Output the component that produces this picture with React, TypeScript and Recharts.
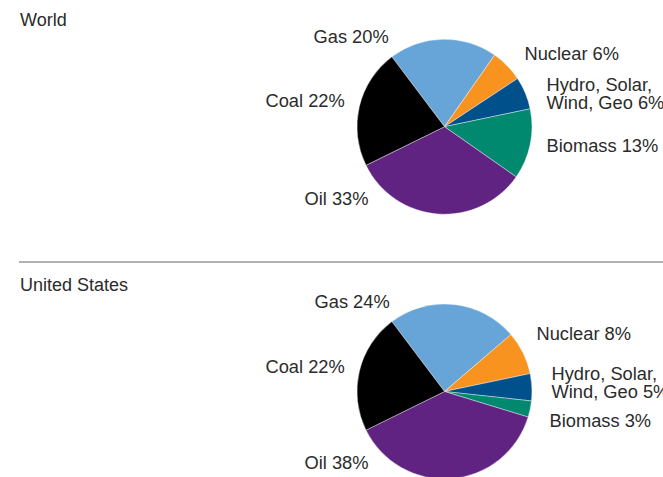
import React from "react";
import { PieChart, Pie, Cell } from "recharts";

// Primary energy supply by source, share of total (%)
const sources = ["Gas", "Nuclear", "Hydro, Solar, Wind, Geo", "Biomass", "Oil", "Coal"];
const worldShares = [20, 6, 6, 13, 33, 22];
const usShares = [24, 8, 5, 3, 38, 22];

const sliceColors = ["#67a5d8", "#f7931e", "#00508c", "#00896f", "#612382", "#000000"];

// label text lines for each source; the share is appended to the last line
const labelLines = [["Gas"], ["Nuclear"], ["Hydro, Solar,", "Wind, Geo"], ["Biomass"], ["Oil"], ["Coal"]];

// label anchor (left x, middle y) relative to the pie centre
const worldLabelPos = [
  [-131, -90.5],
  [80, -74],
  [102, -43],
  [102, 18],
  [-140, 71],
  [-179, -26.5],
];
const usLabelPos = [
  [-130, -90.5],
  [92, -59],
  [107, -19],
  [105, 28.5],
  [-140, 70.5],
  [-179, -25.5],
];

const W = 663;
const H = 477;
const R = 87.5;
const FONT = "'Liberation Sans', Arial, sans-serif";

const toRows = (shares: number[]) => sources.map((name, i) => ({ name, value: shares[i] }));

const makeLabel = (pos: number[][]) => (props: any) => {
  const { cx, cy, index, value } = props;
  const lines = labelLines[index];
  const [dx, dy] = pos[index];
  const lh = 18;
  return (
    <text
      x={cx + dx}
      y={cy + dy}
      fill="#2b2b2b"
      fontSize={18.3}
      fontFamily={FONT}
      textAnchor="start"
      dominantBaseline="central"
    >
      {lines.map((l, i) => (
        <tspan key={i} x={cx + dx} dy={i === 0 ? 0 : lh}>
          {i === lines.length - 1 ? `${l} ${value}%` : l}
        </tspan>
      ))}
    </text>
  );
};

const titleStyle: React.CSSProperties = {
  position: "absolute",
  left: 20,
  fontFamily: FONT,
  fontSize: 18,
  color: "#2b2b2b",
  lineHeight: "20px",
};

export default function App() {
  return (
    <div style={{ position: "absolute", left: 0, top: 0, width: W, height: H, overflow: "hidden", background: "#fff" }}>
      <div style={{ ...titleStyle, top: 10 }}>World</div>
      <div style={{ position: "absolute", left: 19, top: 261, width: W - 19, height: 2, background: "#b3b3b3" }} />
      <div style={{ ...titleStyle, top: 275 }}>United States</div>
      <div style={{ position: "absolute", left: 0, top: 0 }}>
        <PieChart width={W} height={H} margin={{ top: 0, right: 0, bottom: 0, left: 0 }}>
          <Pie
            data={toRows(worldShares)}
            dataKey="value"
            cx={444.5}
            cy={126.7}
            outerRadius={R}
            startAngle={127}
            endAngle={-233}
            stroke="#ffffff"
            strokeWidth={0.4}
            labelLine={false}
            label={makeLabel(worldLabelPos)}
            isAnimationActive={false}
          >
            {worldShares.map((_, i) => (
              <Cell key={`w-${i}`} fill={sliceColors[i]} />
            ))}
          </Pie>
          <Pie
            data={toRows(usShares)}
            dataKey="value"
            cx={444.5}
            cy={391.5}
            outerRadius={R}
            startAngle={127}
            endAngle={-233}
            stroke="#ffffff"
            strokeWidth={0.4}
            labelLine={false}
            label={makeLabel(usLabelPos)}
            isAnimationActive={false}
          >
            {usShares.map((_, i) => (
              <Cell key={`u-${i}`} fill={sliceColors[i]} />
            ))}
          </Pie>
        </PieChart>
      </div>
    </div>
  );
}
